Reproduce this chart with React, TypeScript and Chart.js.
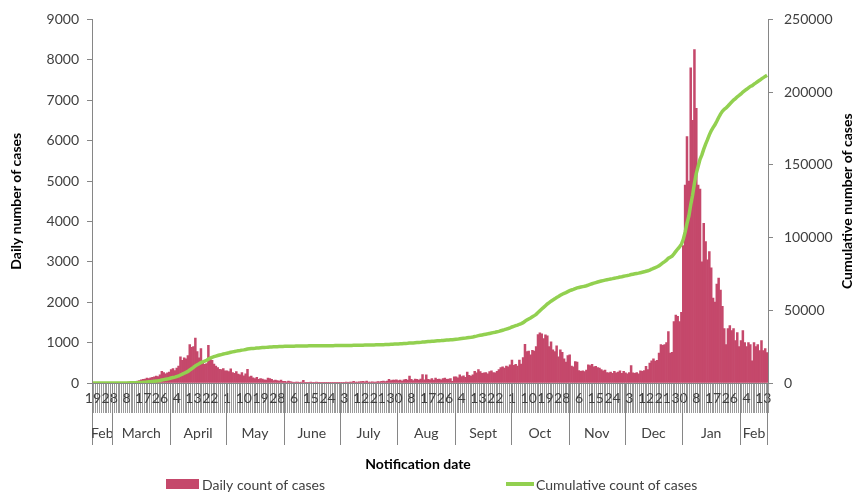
import React, { useEffect, useRef } from 'react';
import { Chart, registerables } from 'chart.js';

Chart.register(...registerables);

// ---- Data ----
const monthNames = ['Feb', 'March', 'April', 'May', 'June', 'July', 'Aug', 'Sept', 'Oct', 'Nov', 'Dec', 'Jan', 'Feb'];
const monthFirstDay = [19, 1, 1, 1, 1, 1, 1, 1, 1, 1, 1, 1, 1];

const feb20 = [0, 0, 0, 0, 0, 0, 0, 0, 1, 0, 2];
const mar20 = [2, 1, 5, 7, 10, 13, 8, 15, 20, 25, 22, 35, 40, 50, 60, 80, 90, 100, 120, 110, 130, 140, 150, 170, 160, 200, 290, 260, 230, 250, 270];
const apr20 = [330, 360, 310, 370, 420, 650, 560, 620, 600, 680, 950, 880, 900, 1110, 780, 620, 850, 500, 460, 480, 930, 620, 560, 470, 420, 380, 340, 330, 360, 300];
const may20 = [300, 280, 350, 260, 240, 280, 220, 200, 260, 180, 230, 340, 150, 170, 130, 110, 140, 90, 110, 100, 80, 70, 120, 110, 90, 60, 70, 60, 50, 70, 40];
const jun20 = [40, 30, 45, 35, 20, 15, 25, 20, 15, 20, 65, 15, 10, 15, 20, 10, 15, 20, 10, 15, 10, 5, 10, 15, 10, 5, 10, 15, 10, 10];
const jul20 = [10, 15, 10, 20, 15, 20, 25, 40, 20, 25, 30, 35, 40, 30, 45, 25, 20, 30, 25, 20, 35, 30, 40, 45, 35, 50, 90, 60, 70, 75, 80];
const aug20 = [60, 70, 50, 80, 90, 70, 170, 90, 60, 100, 90, 70, 100, 210, 80, 200, 90, 80, 110, 70, 120, 90, 100, 80, 110, 120, 90, 100, 110, 40, 150];
const sep20 = [150, 130, 200, 160, 180, 140, 270, 190, 170, 200, 290, 250, 330, 280, 240, 250, 260, 230, 280, 300, 260, 250, 290, 330, 380, 400, 370, 420, 400, 450];
const oct20 = [570, 440, 460, 420, 570, 470, 630, 960, 780, 790, 700, 810, 790, 900, 1200, 1240, 1220, 1100, 1190, 1170, 900, 1020, 820, 780, 920, 650, 820, 760, 600, 520, 680];
const nov20 = [700, 420, 400, 530, 520, 310, 290, 300, 280, 320, 450, 430, 460, 400, 410, 380, 370, 330, 300, 320, 260, 250, 270, 240, 290, 250, 270, 300, 240, 290];
const dec20 = [250, 230, 260, 430, 250, 240, 260, 230, 300, 290, 310, 410, 330, 490, 550, 600, 540, 560, 740, 950, 930, 950, 1000, 1270, 740, 760, 1520, 1680, 1650, 1520, 1750];
const jan21 = [3400, 4900, 6100, 5000, 7800, 6500, 8250, 6800, 4900, 4800, 3000, 3950, 3500, 3050, 3250, 2850, 2100, 2000, 2450, 2600, 2300, 1900, 1350, 950, 1350, 1420, 1300, 1350, 1050, 1250, 900];
const feb21 = [1050, 1300, 1000, 900, 1000, 950, 550, 1000, 900, 950, 800, 1050, 800, 850, 750];

const dailyByMonth = [feb20, mar20, apr20, may20, jun20, jul20, aug20, sep20, oct20, nov20, dec20, jan21, feb21];

const leftTicks = [0, 1000, 2000, 3000, 4000, 5000, 6000, 7000, 8000, 9000];
const rightTicks = [0, 50000, 100000, 150000, 200000, 250000];
const tickLabelEvery = 9;

// Derived tables
const dayLabels: string[] = [];
const daily: number[] = [];
dailyByMonth.forEach((arr, m) => {
  arr.forEach((v, i) => {
    dayLabels.push(String(monthFirstDay[m] + i));
    daily.push(v);
  });
});
const cumulative: number[] = [];
daily.reduce((acc, v) => {
  const s = acc + v;
  cumulative.push(s);
  return s;
}, 0);

const BAR_COLOR = '#C5486B';
const LINE_COLOR = '#92D050';
const AXIS_COLOR = '#868686';
const TEXT_COLOR = '#404040';
const FONT = 'Lato';

const decorPlugin = {
  id: 'decor',
  afterDraw(chart: any) {
    const ctx = chart.ctx as CanvasRenderingContext2D;
    const xs = chart.scales.x;
    const area = chart.chartArea;
    const step = xs.getPixelForValue(1) - xs.getPixelForValue(0);
    const bandTop = area.bottom + 30;
    const bandBottom = bandTop + 32;
    ctx.save();
    ctx.strokeStyle = AXIS_COLOR;
    ctx.lineWidth = 1;
    ctx.fillStyle = TEXT_COLOR;
    ctx.font = `14px ${FONT}`;
    ctx.textAlign = 'center';
    ctx.textBaseline = 'middle';
    let idx = 0;
    dailyByMonth.forEach((arr, m) => {
      const left = xs.getPixelForValue(idx) - step / 2;
      const right = xs.getPixelForValue(idx + arr.length - 1) + step / 2;
      const lx = Math.round(left) + 0.5;
      ctx.beginPath();
      ctx.moveTo(lx, area.bottom);
      ctx.lineTo(lx, bandBottom);
      ctx.stroke();
      if (m === dailyByMonth.length - 1) {
        const rx = Math.round(right) - 0.5;
        ctx.beginPath();
        ctx.moveTo(rx, area.bottom);
        ctx.lineTo(rx, bandBottom);
        ctx.stroke();
      }
      ctx.fillText(monthNames[m], (left + right) / 2, bandTop + 20);
      idx += arr.length;
    });

    // x axis title
    ctx.fillStyle = '#000';
    ctx.font = `bold 14px ${FONT}`;
    ctx.fillText('Notification date', 418, 464);

    // right axis title
    ctx.save();
    ctx.translate(847, (area.top + area.bottom) / 2);
    ctx.rotate(-Math.PI / 2);
    ctx.fillText('Cumulative number of cases', 0, 0);
    ctx.restore();

    // legend
    ctx.font = `14px ${FONT}`;
    ctx.textAlign = 'left';
    ctx.fillStyle = BAR_COLOR;
    ctx.fillRect(166, 479, 33, 10);
    ctx.fillStyle = TEXT_COLOR;
    ctx.fillText(chart.data.datasets[0].label, 202, 485);
    ctx.strokeStyle = LINE_COLOR;
    ctx.lineWidth = 4;
    ctx.beginPath();
    ctx.moveTo(506, 484);
    ctx.lineTo(534, 484);
    ctx.stroke();
    ctx.fillText(chart.data.datasets[1].label, 536, 485);
    ctx.restore();
  },
};

export default function App() {
  const ref = useRef<HTMLCanvasElement | null>(null);
  useEffect(() => {
    if (!ref.current) return;
    Chart.defaults.font.family = FONT;
    const chart = new Chart(ref.current, {
      type: 'bar',
      data: {
        labels: dayLabels,
        datasets: [
          {
            type: 'bar',
            label: 'Daily count of cases',
            data: daily,
            backgroundColor: BAR_COLOR,
            barPercentage: 1,
            categoryPercentage: 1,
            yAxisID: 'y',
            order: 1,
          },
          {
            type: 'line',
            label: 'Cumulative count of cases',
            data: cumulative,
            borderColor: LINE_COLOR,
            borderWidth: 3.5,
            pointRadius: 0,
            tension: 0,
            yAxisID: 'y1',
            order: 0,
          } as any,
        ],
      },
      options: {
        responsive: false,
        animation: false,
        devicePixelRatio: 1,
        layout: { padding: { top: 16, right: 0, bottom: 0, left: 0 } },
        plugins: {
          legend: { display: false },
          tooltip: { enabled: false },
        },
        scales: {
          x: {
            type: 'category',
            offset: true,
            afterFit: (s: any) => { s.height = 114; },
            border: { display: true, color: AXIS_COLOR },
            grid: {
              display: true,
              drawOnChartArea: false,
              drawTicks: true,
              tickLength: 30,
              color: '#9a9a9a',
              lineWidth: 1,
              offset: true,
            },
            ticks: {
              autoSkip: false,
              maxRotation: 0,
              minRotation: 0,
              padding: -23,
              color: TEXT_COLOR,
              font: { size: 14, family: FONT },
              callback: (_v: any, i: number) => (i % tickLabelEvery === 0 ? dayLabels[i] : ''),
            },
          },
          y: {
            position: 'left',
            min: leftTicks[0],
            max: leftTicks[leftTicks.length - 1],
            afterFit: (s: any) => { s.width = 92; },
            afterBuildTicks: (s: any) => { s.ticks = leftTicks.map((v) => ({ value: v })); },
            border: { display: true, color: AXIS_COLOR },
            grid: { drawOnChartArea: false, drawTicks: true, tickLength: 5, color: AXIS_COLOR },
            ticks: {
              padding: 8,
              color: TEXT_COLOR,
              font: { size: 14, family: FONT },
              callback: (v: any) => String(v),
            },
            title: {
              display: true,
              text: 'Daily number of cases',
              color: '#000',
              font: { size: 14, weight: 'bold', family: FONT },
              padding: { top: 8, bottom: 0 },
            },
          },
          y1: {
            position: 'right',
            min: rightTicks[0],
            max: rightTicks[rightTicks.length - 1],
            afterFit: (s: any) => { s.width = 91; },
            afterBuildTicks: (s: any) => { s.ticks = rightTicks.map((v) => ({ value: v })); },
            border: { display: true, color: AXIS_COLOR },
            grid: { drawOnChartArea: false, drawTicks: true, tickLength: 5, color: AXIS_COLOR },
            ticks: {
              padding: 11,
              color: TEXT_COLOR,
              font: { size: 14, family: FONT },
              callback: (v: any) => String(v),
            },
          },
        },
      },
      plugins: [decorPlugin],
    });
    return () => chart.destroy();
  }, []);
  return (
    <div style={{ position: 'absolute', left: 0, top: 0, width: 859, height: 497, background: '#fff' }}>
      <canvas ref={ref} width={859} height={497} style={{ width: 859, height: 497, display: 'block' }} />
    </div>
  );
}
